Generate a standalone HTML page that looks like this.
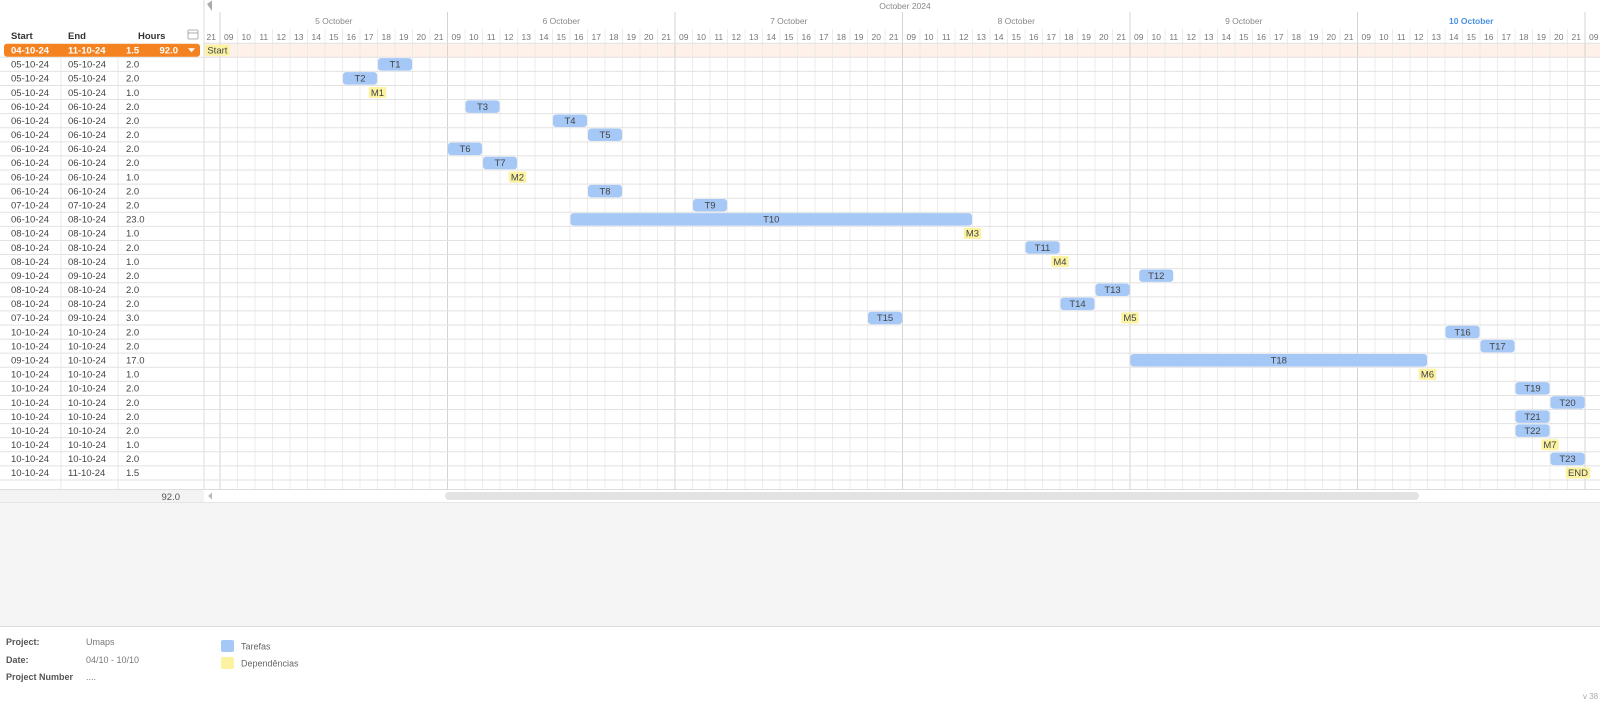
<!DOCTYPE html>
<html><head><meta charset="utf-8">
<style>
html,body{margin:0;padding:0;background:#fff;}
body{width:1600px;height:701px;overflow:hidden;position:relative;font-family:"Liberation Sans",sans-serif;}
svg{position:absolute;left:0;top:0;}
text{font-family:"Liberation Sans",sans-serif;}
</style></head>
<body>
<svg id="g" width="1600" height="701" viewBox="0 0 1600 701"></svg>
<script>
const taskNames=["T1","T2","M1","T3","T4","T5","T6","T7","M2","T8","T9","T10","M3","T11","M4","T12","T13","T14","M5","T15","T16","T17","T18","M6","T19","T20","T21","T22","M7","T23","END"];
const taskRows=[1,2,3,4,5,6,7,8,9,10,11,12,13,14,15,16,17,18,19,19,20,21,22,23,24,25,26,27,28,29,30];
const taskStarts=[10,8,9.5,15,20,22,14,16,17.5,22,28,21,43.5,47,48.5,53.5,51,49,52.5,38,71,73,53,69.5,75,77,75,75,76.5,77,77.9];
const taskHours=[2,2,1,2,2,2,2,2,1,2,2,23,1,2,1,2,2,2,1,2,2,2,17,1,2,2,2,2,1,2,1.4];
const startDates=["05-10-24","05-10-24","05-10-24","06-10-24","06-10-24","06-10-24","06-10-24","06-10-24","06-10-24","06-10-24","07-10-24","06-10-24","08-10-24","08-10-24","08-10-24","09-10-24","08-10-24","08-10-24","07-10-24","10-10-24","10-10-24","09-10-24","10-10-24","10-10-24","10-10-24","10-10-24","10-10-24","10-10-24","10-10-24","10-10-24"];
const endDates=["05-10-24","05-10-24","05-10-24","06-10-24","06-10-24","06-10-24","06-10-24","06-10-24","06-10-24","06-10-24","07-10-24","08-10-24","08-10-24","08-10-24","08-10-24","09-10-24","08-10-24","08-10-24","09-10-24","10-10-24","10-10-24","10-10-24","10-10-24","10-10-24","10-10-24","10-10-24","10-10-24","10-10-24","10-10-24","11-10-24"];
const hoursCol=["2.0","2.0","1.0","2.0","2.0","2.0","2.0","2.0","1.0","2.0","2.0","23.0","1.0","2.0","1.0","2.0","2.0","2.0","3.0","2.0","2.0","17.0","1.0","2.0","2.0","2.0","2.0","1.0","2.0","1.5"];
const dayLabels=["5 October","6 October","7 October","8 October","9 October","10 October"];
const hourLabels=["09","10","11","12","13","14","15","16","17","18","19","20","21"];

const svg=document.getElementById('g');
const NS='http://www.w3.org/2000/svg';
const X0=202.5,CW=17.5,Y0=43.2,RH=14.09,CHL=204,CHR=1600;
function xs(k){return X0+k*CW;}
function ys(r){return Y0+r*RH;}
function mk(tag,attrs,txt){const e=document.createElementNS(NS,tag);for(const a in attrs)e.setAttribute(a,attrs[a]);if(txt!==undefined)e.textContent=txt;svg.appendChild(e);return e;}

let e;
e=mk('rect',{x:0,y:503,width:1600,height:123,fill:'#f5f5f5'});


mk('line',{x1:0,y1:626.5,x2:1600,y2:626.5,stroke:'#ddd'});
e=mk('rect',{x:CHL,y:ys(0),width:CHR-CHL,height:RH,fill:'#fdf1ea'});



const totalRows=startDates.length+1;
const gridBottom=489;
const nCols=80;
for(let k=1;k<=nCols;k++){
  const x=xs(k);
  const dayB=(k-1)%13===0;
  mk('line',{x1:x,y1:dayB?12:29,x2:x,y2:gridBottom,stroke:dayB?'#d4d4d4':'#ececec','stroke-width':1});
}
mk('line',{x1:CHL,y1:0,x2:CHL,y2:gridBottom,stroke:'#ddd'});
for(let r=1;r<=totalRows;r++){
  mk('line',{x1:0,y1:ys(r),x2:CHR,y2:ys(r),stroke:'#e2e2e2'});
}
mk('line',{x1:CHL,y1:ys(0),x2:CHR,y2:ys(0),stroke:'#e2e2e2'});
[61,118].forEach(x=>mk('line',{x1:x,y1:ys(1),x2:x,y2:gridBottom,stroke:'#e8e8e8'}));

e=mk('text',{x:905,y:9,'font-size':8.5,fill:'#888','text-anchor':'middle'},'October 2024');


mk('path',{d:'M207 4 L212 0.5 L212 11 Z',fill:'#aaa'});
dayLabels.forEach((d,i)=>{
  const cx=xs(1+i*13+6.5);
  const today=i===dayLabels.length-1;
  e=mk('text',{x:cx,y:24,'font-size':8.5,fill:today?'#4a90e2':'#888','font-weight':today?'bold':'normal','text-anchor':'middle'},d);
  
  
});
for(let k=0;k<nCols;k++){
  let lab;
  if(k===0)lab='21';else if(k===79)lab='09';else lab=hourLabels[(k-1)%13];
  e=mk('text',{x:xs(k)+CW/2,y:40,'font-size':8.5,fill:'#777','text-anchor':'middle'},lab);
  
  
}
[['Start',11],['End',68],['Hours',138]].forEach(([t,x])=>{
  e=mk('text',{x:x,y:39,'font-size':9.5,'font-weight':'bold',fill:'#333'},t);
  
  
});
e=mk('rect',{x:188,y:30,width:10,height:9,fill:'none',stroke:'#999','stroke-width':0.8,rx:1});


mk('line',{x1:188,y1:33,x2:198,y2:33,stroke:'#999','stroke-width':0.8});

e=mk('rect',{x:4,y:ys(0)+0.5,width:196,height:RH-1,rx:3,fill:'#f58220'});


[['04-10-24',11],['11-10-24',68],['1.5',126]].forEach(([t,x])=>mk('text',{x:x,y:ys(0)+10.5,'font-size':9.5,'font-weight':'bold',fill:'#fff'},t));
mk('text',{x:178,y:ys(0)+10.5,'font-size':9.5,'font-weight':'bold',fill:'#fff','text-anchor':'end'},'92.0');
e=mk('path',{d:`M188 ${ys(0)+5} L195 ${ys(0)+5} L191.5 ${ys(0)+9} Z`,fill:'#fff'});



for(let i=0;i<startDates.length;i++){
  const y=ys(i+1)+10.3;
  e=mk('text',{x:11,y:y,'font-size':9.5,fill:'#444'},startDates[i]);
  
  
  e=mk('text',{x:68,y:y,'font-size':9.5,fill:'#444'},endDates[i]);
  
  
  e=mk('text',{x:126,y:y,'font-size':9.5,fill:'#444'},hoursCol[i]);
  
  
}

const allNames=["Start"].concat(taskNames);
const allRows=[0].concat(taskRows);
const allStarts=[0.15].concat(taskStarts);
const allHours=[1.4].concat(taskHours);
for(let i=0;i<allNames.length;i++){
  const nm=allNames[i];
  const ms=!/^T\d+$/.test(nm);
  const x=xs(allStarts[i]);
  const w=allHours[i]*CW;
  const r=allRows[i];
  const y=ys(r)+(ms?1.5:0.8);
  const h=ms?RH-3:RH-1.6;
  e=mk('rect',{x:x+(ms?0:0.5),y:y,width:w-(ms?0:1),height:h,rx:ms?1.5:3,fill:ms?'#fbf3a2':'#a6c8f6'});
  
  
  e=mk('text',{x:x+w/2,y:ys(r)+10.3,'font-size':9.5,fill:'#444','text-anchor':'middle'},nm);
  
  
}

mk('rect',{x:0,y:489,width:CHL,height:14,fill:'#f3f3f3'});
mk('line',{x1:0,y1:489.5,x2:1600,y2:489.5,stroke:'#ddd'});
mk('line',{x1:0,y1:502.5,x2:1600,y2:502.5,stroke:'#e5e5e5'});
e=mk('text',{x:180,y:500,'font-size':9.5,fill:'#555','text-anchor':'end'},'92.0');


mk('path',{d:'M208 496 L212 492.5 L212 499.5 Z',fill:'#bbb'});
e=mk('rect',{x:445,y:492,width:974,height:8,rx:4,fill:'#e3e3e3'});



[['Project:',645],['Date:',663],['Project Number',680]].forEach(([t,y])=>{
  e=mk('text',{x:6,y:y,'font-size':9,'font-weight':'bold',fill:'#555'},t);
  
  
});
[['Umaps',645],['04/10 - 10/10',663],['....',680]].forEach(([t,y])=>{
  e=mk('text',{x:86,y:y,'font-size':9,fill:'#777'},t);
  
  
});
e=mk('rect',{x:221,y:640,width:13,height:12,rx:2,fill:'#a6c8f6'});


e=mk('text',{x:241,y:649.5,'font-size':9,fill:'#666'},'Tarefas');


e=mk('rect',{x:221,y:657,width:13,height:12,rx:2,fill:'#fbf3a2'});


e=mk('text',{x:241,y:666.5,'font-size':9,fill:'#666'},'Dependências');


e=mk('text',{x:1583,y:699,'font-size':8,fill:'#aaa'},'v 38');


</script>
</body></html>
